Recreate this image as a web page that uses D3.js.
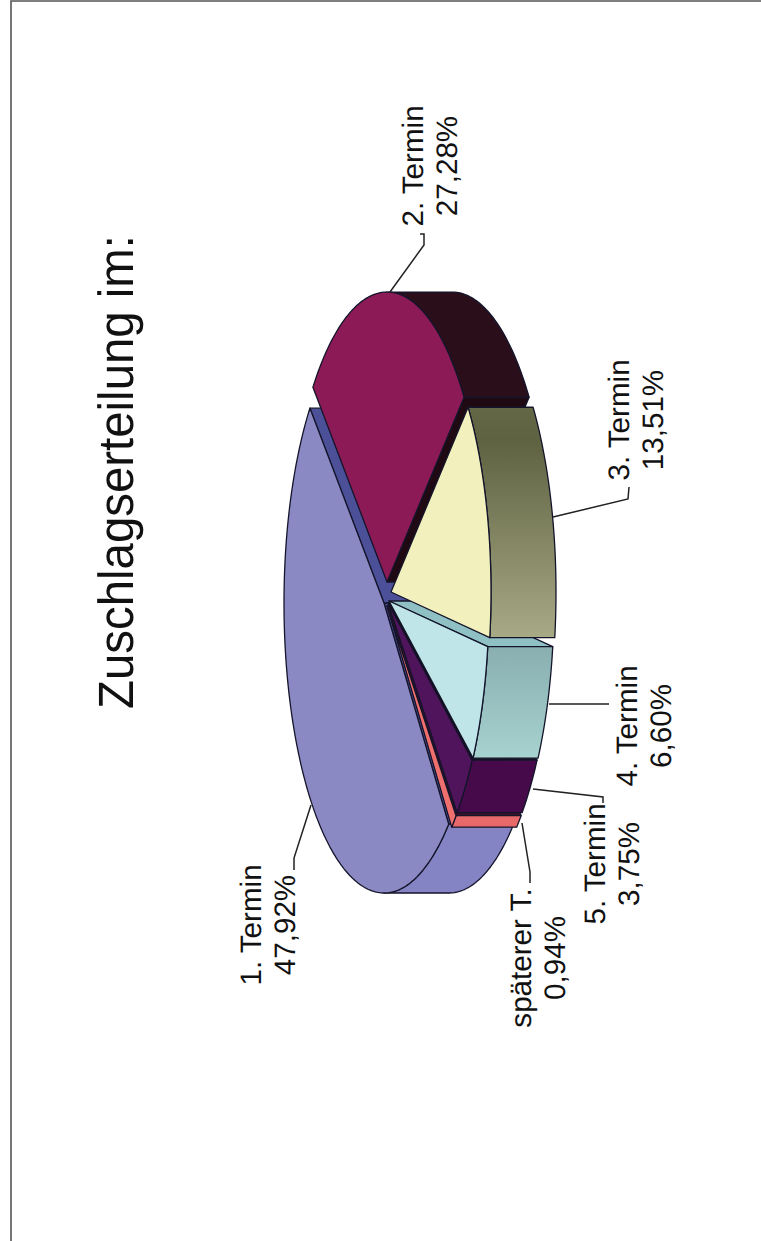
<!DOCTYPE html>
<html>
<head>
<meta charset="utf-8">
<script src="https://cdn.jsdelivr.net/npm/d3@7"></script>
<style>
  html, body { margin: 0; padding: 0; background: #fff; }
  svg { display: block; }
  text { font-family: "Liberation Sans", Arial, sans-serif; fill: #111; text-rendering: geometricPrecision; }
</style>
</head>
<body>
<div class="chart"></div>
<script>
const width = 761;
const height = 1241;

const categories = ["1. Termin", "2. Termin", "3. Termin", "4. Termin", "5. Termin", "späterer T."];
const values = [47.92, 27.28, 13.51, 6.60, 3.75, 0.94];
const valueLabels = ["47,92%", "27,28%", "13,51%", "6,60%", "3,75%", "0,94%"];

const faceColors = ["#8b89c4", "#8c1a56", "#f2f1bd", "#bfe5e8", "#50145c", "#ee6f6e"];
const wallColors = ["#8483c3", "#2a0f1a", "url(#wall-3)", "url(#wall-4)", "#460a4a", "#e8696a"];
const cutColors = ["#4c5099", "#1f0a14", "#5f6343", "#8fc0c4", "#170518", "#3a0f2c"];

// where each exploded slice has its apex
const apexX = [384, 387, 391, 389, 388, 387];
const apexY = [603, 582, 592, 601, 603, 606];

// back to front
const drawOrder = [0, 1, 5, 4, 3, 2];

const radiusX = 100;
const radiusY = 290;
const depth = 65;
const startDeg = 49.7;

const scaleX = d3.scaleLinear().domain([-1, 1]).range([-radiusX, radiusX]);
const scaleY = d3.scaleLinear().domain([-1, 1]).range([-radiusY, radiusY]);

const svg = d3.select(".chart")
  .append("svg")
  .attr("width", width)
  .attr("height", height);

const defs = svg.append("defs");

function wallGradient(id, y1, y2, stops) {
  const g = defs.append("linearGradient")
    .attr("id", id)
    .attr("gradientUnits", "userSpaceOnUse")
    .attr("x1", 0).attr("x2", 0)
    .attr("y1", y1).attr("y2", y2);
  stops.forEach(s => g.append("stop").attr("offset", s[0]).attr("stop-color", s[1]));
}
wallGradient("wall-3", 405, 640, [[0, "#646846"], [0.15, "#5e6241"], [1, "#a9aa86"]]);
wallGradient("wall-4", 648, 758, [[0, "#8aafb1"], [1, "#a6d2cf"]]);

// frame along the top and left side
svg.append("path")
  .attr("d", `M11,${height}V1H${width}`)
  .attr("fill", "none")
  .attr("stroke", "#555")
  .attr("stroke-width", 1.6);

const pie = d3.pie()
  .sort(null)
  .startAngle(startDeg * Math.PI / 180)
  .endAngle((startDeg + 360) * Math.PI / 180);

const slices = pie(values);
const line = d3.line();

function rim(i, a, dz) {
  return [apexX[i] + scaleX(Math.cos(a)) + dz, apexY[i] + scaleY(Math.sin(a))];
}

function arcAngles(a0, a1) {
  const n = Math.max(2, Math.ceil((a1 - a0) * 60));
  return d3.range(n + 1).map(k => a0 + (a1 - a0) * k / n);
}

function cutWall(i, a) {
  const apex = [apexX[i], apexY[i]];
  return line([apex, rim(i, a, 0), rim(i, a, depth), [apex[0] + depth, apex[1]]]) + "Z";
}

const pieGroup = svg.append("g")
  .attr("stroke", "#14142a")
  .attr("stroke-width", 1.3)
  .attr("stroke-linejoin", "round");

drawOrder.forEach(i => {
  const d = slices[i];
  const g = pieGroup.append("g").attr("class", "slice");

  if (Math.sin(d.startAngle) > 0) {
    g.append("path").attr("d", cutWall(i, d.startAngle)).attr("fill", cutColors[i]);
  }
  if (Math.sin(d.endAngle) < 0) {
    g.append("path").attr("d", cutWall(i, d.endAngle)).attr("fill", cutColors[i]);
  }

  // only the part of the rim turned towards the viewer
  const front = arcAngles(d.startAngle, d.endAngle).filter(a => Math.cos(a) >= 0);
  if (front.length > 1) {
    const top = front.map(a => rim(i, a, 0));
    const bottom = front.map(a => rim(i, a, depth)).reverse();
    g.append("path").attr("d", line(top.concat(bottom)) + "Z").attr("fill", wallColors[i]);
  }

  const outline = arcAngles(d.startAngle, d.endAngle).map(a => rim(i, a, 0));
  g.append("path")
    .attr("d", line([[apexX[i], apexY[i]]].concat(outline)) + "Z")
    .attr("fill", faceColors[i]);
});

// leader lines, same order as categories
const leaders = [
  [[311, 805], [294, 858], [294, 870]],
  [[390, 292], [424, 245], [424, 234], [420, 234]],
  [[553, 517], [628, 499], [629, 487]],
  [[549, 704], [609, 704]],
  [[533, 789], [603, 797], [603, 803]],
  [[522, 823], [530, 872], [530, 883]]
];

svg.append("g")
  .selectAll("path")
  .data(leaders)
  .join("path")
  .attr("d", d => line(d))
  .attr("fill", "none")
  .attr("stroke", "#222")
  .attr("stroke-width", 1.5);

const labelBaseX = [261, 423, 629, 637, 605, 531];
const labelCenterY = [925, 166, 420, 726, 864, 958];

function turnedText(x, y, str, size) {
  return svg.append("text")
    .attr("transform", `translate(${x},${y}) rotate(-90)`)
    .attr("text-anchor", "middle")
    .attr("font-size", size)
    .text(str);
}

categories.forEach((c, i) => {
  turnedText(labelBaseX[i], labelCenterY[i], c, 29.6);
  turnedText(labelBaseX[i] + 34, labelCenterY[i], valueLabels[i], 29.6);
});

turnedText(133, 472, "Zuschlagserteilung im:", 49.5)
  .attr("textLength", 474)
  .attr("lengthAdjust", "spacingAndGlyphs");
</script>
</body>
</html>
